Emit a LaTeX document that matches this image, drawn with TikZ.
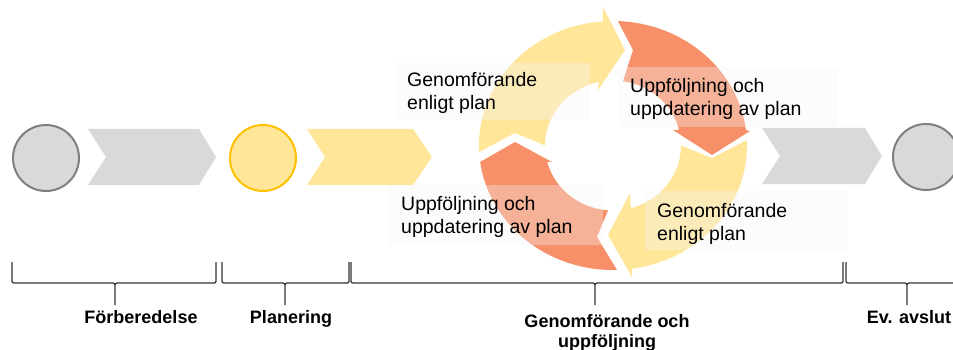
\documentclass[tikz,border=0pt]{standalone}
\usepackage{fontspec}
\setmainfont{Liberation Sans}
\usetikzlibrary{calc}
\definecolor{grayfill}{HTML}{D9D9D9}
\definecolor{grayline}{HTML}{7F7F7F}
\definecolor{yel}{HTML}{FFE699}
\definecolor{gold}{HTML}{FFC000}
\definecolor{orng}{RGB}{247,143,104}
\definecolor{boxgray}{HTML}{F6F6F6}
\definecolor{bracec}{HTML}{333333}
\newcommand{\mybrace}[3]{\draw[bracestyle] (#1,262) -- (#1,279) .. controls (#1,283) .. (#1+4,283) -- (#2-4,283) .. controls (#2,283) .. (#2,288) -- (#2,305) (#2,288) .. controls (#2,283) .. (#2+4,283) -- (#3-4,283) .. controls (#3,283) .. (#3,279) -- (#3,262);}
\tikzset{
  bracestyle/.style={draw=bracec, line width=1.2pt},
  circgray/.style={circle, fill=grayfill, draw=grayline, line width=2pt, minimum size=66pt, inner sep=0pt},
  circyel/.style={circle, fill=yel, draw=gold, line width=2pt, minimum size=66pt, inner sep=0pt},
  txtbox/.style={fill=boxgray, fill opacity=0.35},
  cyctext/.style={inner sep=0pt, anchor=base west, font=\fontsize{19.5}{23}\selectfont},
  phase/.style={inner sep=0pt, anchor=base, font=\fontsize{18}{20}\selectfont\bfseries},
}
\begin{document}
\begin{tikzpicture}[x={(1pt,0pt)}, y={(0pt,-1pt)}]
\useasboundingbox (0,0) rectangle (953,350);
% left circle and chevron
\node[circgray] (c1) at (46,158) {};
\fill[grayfill] (88,129) -- (199,129) -- (216,157) -- (199,185) -- (88,185) -- (106,157) -- cycle;
\node[circyel] (c2) at (263,158) {};
\fill[yel] (307,129) -- (413,129) -- (432,157) -- (413,185) -- (307,185) -- (325,157) -- cycle;
% right chevron and circle
\fill[grayfill] (762,128) -- (865,128) -- (882,156) -- (865,184) -- (762,184) -- (780,156) -- cycle;
\node[circgray] (c3) at (926,157) {};
% cycle
\coordinate (C) at (613,145.5);
\fill[yel] ($(C)+(177:134 and 124.5)$) arc[start angle=177, end angle=265.7, x radius=134, y radius=124.5] -- (603,7) -- (625,50) -- (598,90) -- ($(C)+(258:68 and 65)$) arc[start angle=258, end angle=180, x radius=68, y radius=65] -- (515,133) -- cycle;
\fill[orng] ($(C)+(272.1:134 and 124.5)$) arc[start angle=272.1, end angle=352.85, x radius=134, y radius=124.5] -- (750,131) -- (712,155) -- (673,130) -- ($(C)+(346.2:68 and 65)$) arc[start angle=346.2, end angle=278.5, x radius=68, y radius=65] -- (633,50) -- cycle;
\fill[yel] ($(C)+(-2.5:134 and 124.5)$) arc[start angle=-2.5, end angle=81.85, x radius=134, y radius=124.5] -- (632,277) -- (608,235) -- (630,193) -- ($(C)+(74.65:68 and 65)$) arc[start angle=74.65, end angle=0, x radius=68, y radius=65] -- (712,158) -- cycle;
\fill[orng] ($(C)+(88.3:134 and 124.5)$) arc[start angle=88.3, end angle=172.4, x radius=134, y radius=124.5] -- (480,162) -- (515,142) -- (552,162) -- ($(C)+(165.3:68 and 65)$) arc[start angle=165.3, end angle=94.2, x radius=68, y radius=65] -- (597,237) -- cycle;
% text boxes
\fill[txtbox] (395,63) rectangle (590,120);
\fill[txtbox] (618,67) rectangle (838,127);
\fill[txtbox] (388,185) rectangle (603,245);
\fill[txtbox] (645,191) rectangle (847,250);
\node[cyctext] (t1) at (407,87) {\begin{tabular}[t]{@{}l@{}}Genomförande\\enligt plan\end{tabular}};
\node[cyctext] (t2) at (630,93) {\begin{tabular}[t]{@{}l@{}}Uppföljning och\\uppdatering av plan\end{tabular}};
\node[cyctext] (t3) at (401,210) {\begin{tabular}[t]{@{}l@{}}Uppföljning och\\uppdatering av plan\end{tabular}};
\node[cyctext] (t4) at (657,217) {\begin{tabular}[t]{@{}l@{}}Genomförande\\enligt plan\end{tabular}};
% braces
\mybrace{12}{115}{216}
\mybrace{222}{285}{349}
\mybrace{351}{595}{843}
\mybrace{846}{907}{975}
% phase labels
\node[phase] (p1) at (141,323) {Förberedelse};
\node[phase] (p2) at (291,323) {Planering};
\node[phase] (p3) at (607,327) {\begin{tabular}[t]{@{}c@{}}Genomförande och\\uppföljning\end{tabular}};
\node[phase] (p4) at (909,323) {Ev. avslut};
\end{tikzpicture}
\end{document}
